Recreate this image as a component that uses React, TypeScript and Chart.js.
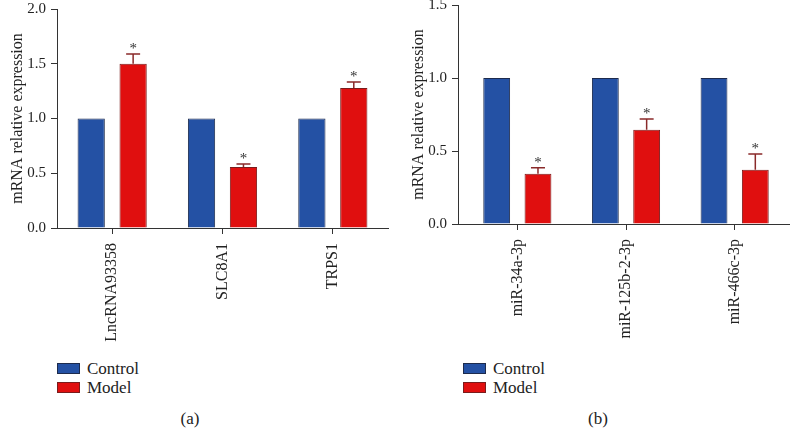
import React, { useEffect, useRef } from "react";
import { Chart, registerables } from "chart.js";

Chart.register(...registerables);

const seriesNames = ["Control", "Model"];

const categoriesA = ["LncRNA93358", "SLC8A1", "TRPS1"];
const controlA = [1.0, 1.0, 1.0];
const modelA = [1.5, 0.557, 1.278];
const modelErrA = [0.09, 0.027, 0.055];
const yMaxA = 2.0;

const categoriesB = ["miR-34a-3p", "miR-125b-2-3p", "miR-466c-3p"];
const controlB = [1.0, 1.0, 1.0];
const modelB = [0.345, 0.645, 0.372];
const modelErrB = [0.04, 0.075, 0.107];
const yMaxB = 1.5;

const yStep = 0.5;

const FONT = '"Liberation Serif", "Times New Roman", serif';
const BLUE = "#2451a4";
const RED = "#e00f0f";
const BLUE_BORDER = "#1d2b4d";
const RED_BORDER = "#7a1c1c";
const ERR = "#8a2a2a";
const AXIS = "#333333";

type PanelProps = {
  left: number;
  width: number;
  labels: string[];
  control: number[];
  model: number[];
  err: number[];
  yMax: number;
  axisWidth: number;
  topPad: number;
  xHeight: number;
  rightPad: number;
  shift: number;
  titlePad: number;
  legendLeft: number;
  caption: string;
  captionX: number;
};

function Panel(p: PanelProps) {
  const ref = useRef<HTMLCanvasElement | null>(null);
  useEffect(() => {
    if (!ref.current) return;
    const errorPlugin = {
      id: "errbars",
      afterLayout(chart: any) {
        if (p.shift) {
          const xs = chart.scales.x;
          xs._startPixel += p.shift;
          xs._length -= p.shift;
        }
      },
      afterDatasetsDraw(chart: any) {
        const meta = chart.getDatasetMeta(1);
        const yS = chart.scales.y;
        const ctx = chart.ctx;
        ctx.save();
        meta.data.forEach((bar: any, i: number) => {
          const yTop = yS.getPixelForValue(p.model[i] + p.err[i]);
          ctx.strokeStyle = ERR;
          ctx.lineWidth = 1.5;
          ctx.beginPath();
          ctx.moveTo(bar.x, bar.y);
          ctx.lineTo(bar.x, yTop);
          ctx.moveTo(bar.x - 7, yTop);
          ctx.lineTo(bar.x + 7, yTop);
          ctx.stroke();
          ctx.fillStyle = "#333";
          ctx.font = `15px ${FONT}`;
          ctx.textAlign = "center";
          ctx.textBaseline = "alphabetic";
          ctx.fillText("*", bar.x, yTop - 1);
        });
        ctx.restore();
      },
    };
    const chart = new Chart(ref.current, {
      type: "bar",
      data: {
        labels: p.labels,
        datasets: [
          {
            label: seriesNames[0],
            data: p.control,
            backgroundColor: BLUE,
            borderColor: BLUE_BORDER,
            borderWidth: 1,
            categoryPercentage: 0.76,
            barPercentage: 0.65,
          },
          {
            label: seriesNames[1],
            data: p.model,
            backgroundColor: RED,
            borderColor: RED_BORDER,
            borderWidth: 1,
            categoryPercentage: 0.76,
            barPercentage: 0.65,
          },
        ],
      },
      options: {
        animation: false,
        responsive: false,
        maintainAspectRatio: false,
        layout: { padding: { top: p.topPad, right: p.rightPad, bottom: 0, left: 0 } },
        plugins: { legend: { display: false }, tooltip: { enabled: false } },
        scales: {
          x: {
            offset: true,
            grid: { display: true, offset: false, drawOnChartArea: false, drawTicks: true, tickLength: 6, color: AXIS },
            border: { display: true, color: AXIS, width: 1 },
            ticks: {
              autoSkip: false,
              maxRotation: 90,
              minRotation: 90,
              padding: 9,
              color: "#222",
              font: { family: FONT, size: 16 },
            },
            afterFit: (s: any) => {
              s.height = p.xHeight;
              s.paddingLeft = 0;
              s.paddingRight = 0;
            },
          },
          y: {
            min: 0,
            max: p.yMax,
            grid: { display: true, drawOnChartArea: false, drawTicks: true, tickLength: 6, color: AXIS },
            border: { display: true, color: AXIS, width: 1 },
            ticks: {
              stepSize: yStep,
              padding: 5,
              color: "#222",
              font: { family: FONT, size: 15 },
              callback: (v: any) => Number(v).toFixed(1),
            },
            title: {
              display: true,
              text: "mRNA relative expression",
              color: "#222",
              font: { family: FONT, size: 16 },
              padding: { top: p.titlePad, bottom: 0 },
            },
            afterFit: (s: any) => {
              s.width = p.axisWidth;
              s.paddingTop = 0;
              s.paddingBottom = 0;
            },
          },
        },
      },
      plugins: [errorPlugin],
    });
    return () => chart.destroy();
  }, []);

  const legendRow = (name: string, color: string, border: string, top: number) => (
    <div key={name} style={{ position: "absolute", left: p.left + p.legendLeft, top, height: 19, display: "flex", alignItems: "center" }}>
      <div style={{ width: 21, height: 9, background: color, border: `1px solid ${border}` }} />
      <span style={{ marginLeft: 7, fontFamily: FONT, fontSize: 17, color: "#222", lineHeight: "19px" }}>{name}</span>
    </div>
  );

  return (
    <>
      <canvas
        ref={ref}
        width={p.width}
        height={350}
        style={{ position: "absolute", left: p.left, top: 0, width: p.width, height: 350 }}
      />
      {legendRow(seriesNames[0], BLUE, BLUE_BORDER, 359)}
      {legendRow(seriesNames[1], RED, RED_BORDER, 378)}
      <div
        style={{
          position: "absolute",
          left: p.left + p.captionX - 30,
          width: 60,
          top: 409,
          textAlign: "center",
          fontFamily: FONT,
          fontSize: 17,
          color: "#222",
          lineHeight: "20px",
        }}
      >
        {p.caption}
      </div>
    </>
  );
}

export default function App() {
  return (
    <div style={{ position: "absolute", left: 0, top: 0, width: 793, height: 428, background: "#fff", overflow: "hidden" }}>
      <Panel
        left={0}
        width={396}
        labels={categoriesA}
        control={controlA}
        model={modelA}
        err={modelErrA}
        yMax={yMaxA}
        axisWidth={57}
        topPad={9}
        xHeight={122}
        rightPad={8}
        shift={0}
        titlePad={8}
        legendLeft={57}
        caption="(a)"
        captionX={190}
      />
      <Panel
        left={400}
        width={393}
        labels={categoriesB}
        control={controlB}
        model={modelB}
        err={modelErrB}
        yMax={yMaxB}
        axisWidth={58}
        topPad={5}
        xHeight={126}
        rightPad={4}
        shift={5}
        titlePad={9}
        legendLeft={63}
        caption="(b)"
        captionX={198}
      />
    </div>
  );
}
